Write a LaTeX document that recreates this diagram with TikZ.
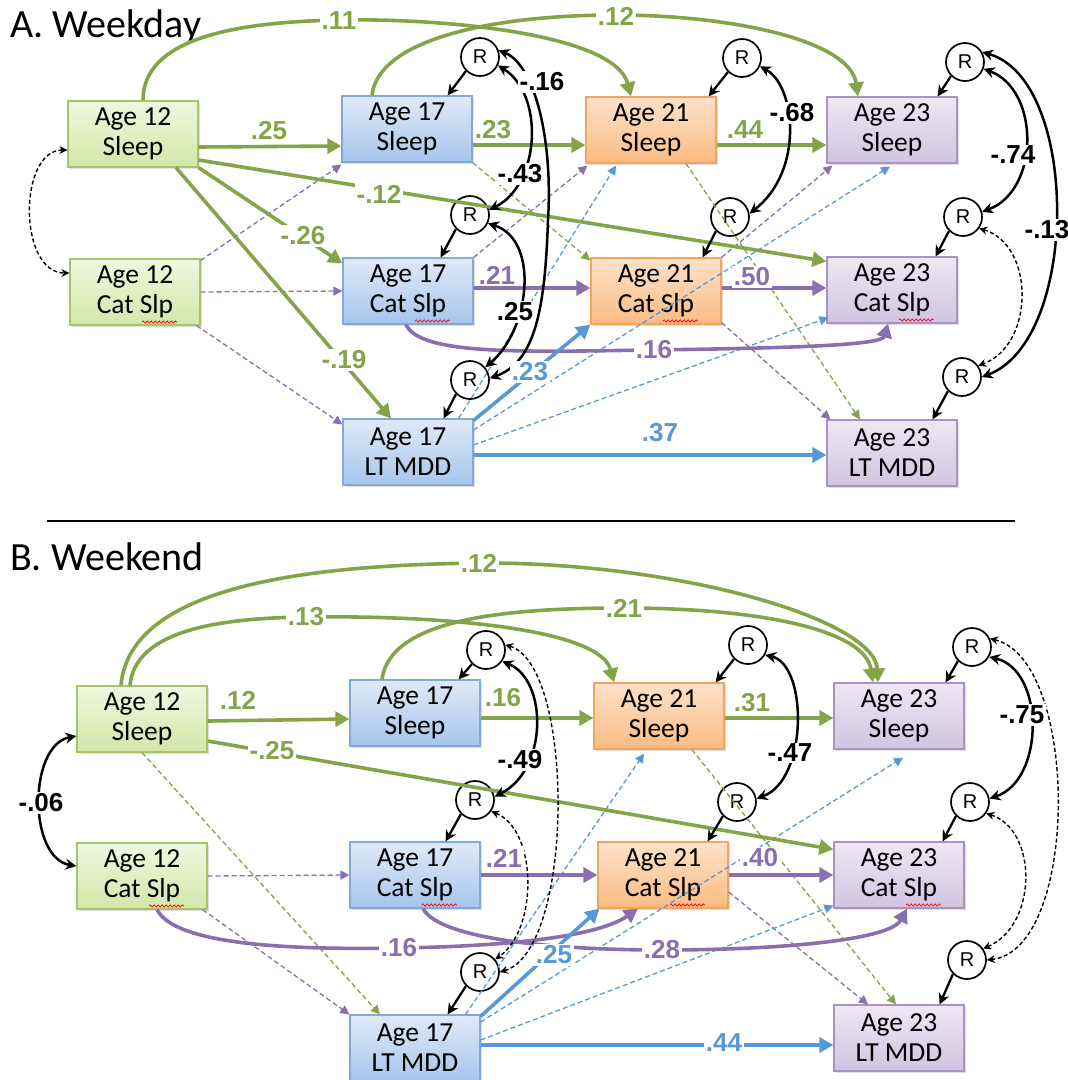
\documentclass[tikz,border=0pt]{standalone}
\usepackage{fontspec}
\setmainfont{Carlito}
\newfontfamily\labfont{Liberation Sans}
\usetikzlibrary{arrows.meta,calc,shadows,decorations.pathmorphing}

\definecolor{gline}{HTML}{85A449}
\definecolor{pline}{HTML}{8A6FAF}
\definecolor{bline}{HTML}{5898D7}
\definecolor{gtop}{HTML}{F0F7E0}
\definecolor{gbot}{HTML}{D2E7A8}
\definecolor{gbd}{HTML}{A6C56A}
\definecolor{btop}{HTML}{DFEAF8}
\definecolor{bbot}{HTML}{A6C5EB}
\definecolor{bbd}{HTML}{83A9DA}
\definecolor{otop}{HTML}{FDE2CA}
\definecolor{obot}{HTML}{FBBB82}
\definecolor{obd}{HTML}{F6A35C}
\definecolor{ptop}{HTML}{EEE8F4}
\definecolor{pbot}{HTML}{D0C4E1}
\definecolor{pbd}{HTML}{A793C5}

\begin{document}
\begin{tikzpicture}[x=1pt,y=-1pt,
  box/.style={draw, line width=1.2pt, minimum width=130pt, minimum height=66pt,
    align=center, inner sep=0pt, font=\fontsize{27.5}{30}\selectfont,
    drop shadow={shadow xshift=2pt, shadow yshift=-2pt, opacity=0.25}},
  gbox/.style={box, draw=gbd, top color=gtop, bottom color=gbot},
  bbox/.style={box, draw=bbd, top color=btop, bottom color=bbot},
  obox/.style={box, draw=obd, top color=otop, bottom color=obot},
  pbox/.style={box, draw=pbd, top color=ptop, bottom color=pbot},
  res/.style={circle, draw, line width=1.7pt, minimum size=38pt, inner sep=0pt,
    font=\labfont\fontsize{20}{20}\selectfont},
  gsolid/.style={draw=gline, line width=3.6pt, -{Triangle[length=14pt,width=15pt]}},
  psolid/.style={draw=pline, line width=3.6pt, -{Triangle[length=14pt,width=15pt]}},
  bsolid/.style={draw=bline, line width=3.6pt, -{Triangle[length=14pt,width=15pt]}},
  gdash/.style={draw=gline, line width=1.3pt, dash pattern=on 5pt off 3pt, -{Triangle[length=9pt,width=9pt]}},
  pdash/.style={draw=pline, line width=1.3pt, dash pattern=on 5pt off 3pt, -{Triangle[length=9pt,width=9pt]}},
  bdash/.style={draw=bline, line width=1.3pt, dash pattern=on 5pt off 3pt, -{Triangle[length=9pt,width=9pt]}},
  kres/.style={draw=black, line width=2.3pt, -{Stealth[length=11pt,width=11pt]}},
  kcorr/.style={draw=black, line width=2.5pt, {Stealth[length=11pt,width=11pt]}-{Stealth[length=11pt,width=11pt]}},
  kdcorr/.style={draw=black, line width=1.4pt, dash pattern=on 4pt off 2.5pt,
    {Stealth[length=8pt,width=8pt]}-{Stealth[length=8pt,width=8pt]}},
  lbl/.style={font=\labfont\bfseries\fontsize{26}{26}\selectfont, inner sep=1.5pt, fill=white},
  squig/.style={draw=red, line width=0.7pt, decorate, decoration={snake, amplitude=1.1pt, segment length=4pt}},
  ttl/.style={font=\fontsize{40}{40}\selectfont, anchor=base west, inner sep=0pt}
]
\useasboundingbox (0,0) rectangle (1068,1080);

% ---------------- titles and rule ----------------
\node[ttl] (tA) at (10,37) {A. Weekday};
\node[ttl] (tB) at (10,570) {B. Weekend};
\coordinate (ruleL) at (47,521);
\coordinate (ruleR) at (1015,521);
\draw[line width=2.5pt] (ruleL) -- (ruleR);

% ---------------- panel A boxes ----------------
\node[gbox] (A12S) at (133,134) {Age 12\\Sleep};
\node[gbox] (A12C) at (135,292) {Age 12\\Cat Slp};
\node[bbox] (A17S) at (407,129) {Age 17\\Sleep};
\node[bbox] (A17C) at (408,291) {Age 17\\Cat Slp};
\node[bbox] (A17M) at (408,452) {Age 17\\LT MDD};
\node[obox] (A21S) at (651,130) {Age 21\\Sleep};
\node[obox] (A21C) at (656,291) {Age 21\\Cat Slp};
\node[pbox] (A23S) at (892,130) {Age 23\\Sleep};
\node[pbox] (A23C) at (892,290) {Age 23\\Cat Slp};
\node[pbox] (A23M) at (892,453) {Age 23\\LT MDD};

\node[res] (rA17S) at (480,57) {R};
\node[res] (rA17C) at (470,215) {R};
\node[res] (rA17M) at (470,380) {R};
\node[res] (rA21S) at (742,58) {R};
\node[res] (rA21C) at (730,217) {R};
\node[res] (rA23S) at (965,62) {R};
\node[res] (rA23C) at (963,217) {R};
\node[res] (rA23M) at (962,377) {R};

% ---------------- panel B boxes ----------------
\node[gbox] (B12S) at (142,719) {Age 12\\Sleep};
\node[gbox] (B12C) at (142,876) {Age 12\\Cat Slp};
\node[bbox] (B17S) at (415,713) {Age 17\\Sleep};
\node[bbox] (B17C) at (415,875) {Age 17\\Cat Slp};
\node[bbox] (B17M) at (415,1048) {Age 17\\LT MDD};
\node[obox] (B21S) at (659,716) {Age 21\\Sleep};
\node[obox] (B21C) at (663,875) {Age 21\\Cat Slp};
\node[pbox] (B23S) at (899,716) {Age 23\\Sleep};
\node[pbox] (B23C) at (899,875) {Age 23\\Cat Slp};
\node[pbox] (B23M) at (899,1038) {Age 23\\LT MDD};

\node[res] (rB17S) at (486,650) {R};
\node[res] (rB17C) at (475,800) {R};
\node[res] (rB17M) at (480,972) {R};
\node[res] (rB21S) at (748,645) {R};
\node[res] (rB21C) at (737,802) {R};
\node[res] (rB23S) at (972,647) {R};
\node[res] (rB23C) at (970,802) {R};
\node[res] (rB23M) at (967,960) {R};

% spell-check squiggles under "Slp"
\foreach \b in {A12C,A17C,A21C,A23C,B12C,B17C,B21C,B23C}
  \draw[squig] ($(\b.center)+(7,30)$) -- ++(35,0);

% ================= panel A paths =================
% non-significant paths (thin dashed)
\draw[pdash] ($(A12C.north east)+(0,2)$) -- ($(A17S.south west)+(0,2)$);
\draw[pdash] (A12C.east) -- (A17C.west);
\draw[pdash] ($(A12C.south east)+(-4,0)$) -- ($(A17M.north west)+(0,6)$);
\draw[pdash] (A17C.north east) -- ($(A21S.south west)+(2,2)$);
\draw[pdash] (A21C.north east) -- ($(A23S.south west)+(6,2)$);
\draw[pdash] ($(A21C.south east)+(0,-2)$) -- ($(A23M.north west)+(4,0)$);
\draw[gdash] (A17S.south east) -- ($(A21C.north west)+(0,3)$);
\draw[gdash] ($(A21S.south)+(35,0)$) -- ($(A23M.north)+(-32,0)$);
\draw[bdash] ($(A17M.north east)+(-15,0)$) -- ($(A21S.south)+(-35,2)$);
\draw[bdash] ($(A17M.east)+(0,-22)$) -- ($(A23S.south)+(-2,3)$);
\draw[bdash] ($(A17M.east)+(0,-7)$) -- ($(A23C.south west)+(2,-6)$);

% sleep paths
\draw[gsolid] ($(A12S.east)+(0,13)$) -- ($(A17S.west)+(0,17)$);
\draw[gsolid] ($(A17S.east)+(0,16)$) -- ($(A21S.west)+(0,15)$);
\draw[gsolid] ($(A21S.east)+(0,15)$) -- ($(A23S.west)+(0,15)$);
\draw[gsolid] ($(A12S.north)+(10,0)$) .. controls (143,40) and (230,22) .. (339,20)
  .. controls (450,18) and (615,35) .. ($(A21S.north)+(-20,0)$);
\draw[gsolid] ($(A17S.north)+(-35,0)$) .. controls (378,40) and (490,15) .. (616,15)
  .. controls (730,15) and (850,40) .. ($(A23S.north)+(-34,0)$);
\draw[gsolid] (A12S.south east) -- ($(A17C.north west)+(0,6)$);
\draw[gsolid] ($(A12S.south)+(43,0)$) -- ($(A17M.north)+(-17,0)$);
\draw[gsolid] ($(A12S.east)+(0,26)$) -- ($(A23C.north west)+(0,5)$);

% categorical sleep paths
\draw[psolid] ($(A17C.east)+(0,-3)$) -- ($(A21C.west)+(0,-3)$);
\draw[psolid] ($(A21C.east)+(0,-3)$) -- ($(A23C.west)+(0,-2)$);
\draw[psolid] ($(A17C.south)+(-2,0)$) .. controls (420,355) and (520,352) .. (650,350)
  .. controls (800,348) and (882,345) .. ($(A23C.south)+(-4,0)$);

% depression paths
\draw[bsolid] ($(A17M.north east)+(0,2)$) -- (A21C.south west);
\draw[bsolid] ($(A17M.east)+(0,3)$) -- ($(A23M.west)+(0,2)$);

% residuals
\draw[kres] (rA17S.south west) -- ($(A17S.north east)+(-25,0)$);
\draw[kres] (rA17C.south west) -- ($(A17C.north east)+(-33,0)$);
\draw[kres] (rA17M.south west) -- ($(A17M.north east)+(-30,0)$);
\draw[kres] (rA21S.south west) -- ($(A21S.north east)+(-8,0)$);
\draw[kres] (rA21C.south west) -- ($(A21C.north east)+(-19,0)$);
\draw[kres] (rA23S.south west) -- ($(A23S.north east)+(-20,0)$);
\draw[kres] (rA23C.south west) -- ($(A23C.north east)+(-22,0)$);
\draw[kres] (rA23M.south west) -- ($(A23M.north east)+(-25,0)$);

% covariances
\draw[kdcorr] ($(A12S.west)+(0,16)$) .. controls (18,150) and (18,273) .. ($(A12C.west)+(0,-19)$);
\draw[kcorr] (rA17S.20) .. controls (535,65) and (553,140) .. (548,220)
  .. controls (545,310) and (535,362) .. (rA17M.5);
\draw[kcorr] (rA17S.-25) .. controls (545,95) and (540,185) .. (rA17C.15);
\draw[kcorr] (rA17C.-25) .. controls (540,240) and (530,330) .. (rA17M.40);
\draw[kcorr] (rA21S.-25) .. controls (795,85) and (805,170) .. (rA21C.10);
\draw[kcorr] (rA23S.-20) .. controls (1040,90) and (1040,190) .. (rA23C.15);
\draw[kcorr] (rA23S.30) .. controls (1080,80) and (1080,340) .. (rA23M.0);
\draw[kdcorr] (rA23C.-35) .. controls (1035,245) and (1035,345) .. (rA23M.35);

% coefficients
\node[lbl,text=gline] (cA1) at (269,131) {.25};
\node[lbl,text=gline] (cA2) at (493,130) {.23};
\node[lbl,text=gline] (cA3) at (745,130) {.44};
\node[lbl,text=gline] (cA4) at (339,21) {.11};
\node[lbl,text=gline] (cA5) at (616,16) {.12};
\node[lbl,text=gline] (cA6) at (379,194) {-.12};
\node[lbl,text=gline] (cA7) at (303,236) {-.26};
\node[lbl,text=gline] (cA8) at (344,360) {-.19};
\node[lbl,text=pline] (cA9) at (497,275) {.21};
\node[lbl,text=pline] (cA10) at (752,277) {.50};
\node[lbl,text=pline] (cA11) at (654,350) {.16};
\node[lbl,text=bline] (cA12) at (530,372) {.23};
\node[lbl,text=bline] (cA13) at (660,433) {.37};
\node[lbl] (cA14) at (542,82) {-.16};
\node[lbl] (cA15) at (520,174) {-.43};
\node[lbl] (cA16) at (515,312) {.25};
\node[lbl] (cA17) at (792,113) {-.68};
\node[lbl] (cA18) at (1013,155) {-.74};
\node[lbl] (cA19) at (1047,230) {-.13};

% ================= panel B paths =================
\draw[gdash] (B12S.south) -- ($(B17M.north)+(-35,0)$);
\draw[gdash] ($(B21S.south)+(33,0)$) -- ($(B23M.north)+(-3,0)$);
\draw[pdash] (B12C.east) -- (B17C.west);
\draw[pdash] ($(B12C.south east)+(-5,0)$) -- (B17M.north west);
\draw[pdash] ($(B21C.east)+(0,17)$) -- ($(B23M.north)+(-31,0)$);
\draw[bdash] ($(B17M.north east)+(-15,0)$) -- ($(B21S.south)+(-15,4)$);
\draw[bdash] ($(B17M.east)+(0,-26)$) -- ($(B23S.south)+(4,8)$);
\draw[bdash] ($(B17M.east)+(0,-8)$) -- ($(B23C.south west)+(0,-3)$);

\draw[gsolid] ($(B12S.east)+(0,2)$) -- ($(B17S.west)+(0,6)$);
\draw[gsolid] ($(B17S.east)+(0,5)$) -- ($(B21S.west)+(0,2)$);
\draw[gsolid] ($(B21S.east)+(0,2)$) -- ($(B23S.west)+(0,2)$);
\draw[gsolid] ($(B12S.north)+(-21,0)$) .. controls (130,580) and (330,565) .. (479,563)
  .. controls (680,562) and (875,620) .. ($(B23S.north)+(-21,0)$);
\draw[gsolid] ($(B12S.north)+(-12,0)$) .. controls (135,630) and (220,618) .. (306,617)
  .. controls (450,615) and (600,630) .. ($(B21S.north)+(-45,0)$);
\draw[gsolid] ($(B17S.north)+(-33,0)$) .. controls (390,620) and (500,608) .. (624,608)
  .. controls (760,608) and (865,630) .. ($(B23S.north)+(-26,0)$);
\draw[gsolid] ($(B12S.east)+(0,22)$) -- ($(B23C.north west)+(0,8)$);

\draw[psolid] (B17C.east) -- (B21C.west);
\draw[psolid] (B21C.east) -- (B23C.west);
\draw[psolid] ($(B12C.south)+(15,0)$) .. controls (175,945) and (290,950) .. (399,948)
  .. controls (520,946) and (600,935) .. ($(B21C.south)+(-25,0)$);
\draw[psolid] ($(B17C.south)+(8,0)$) .. controls (440,940) and (560,950) .. (662,950)
  .. controls (780,950) and (890,940) .. ($(B23C.south)+(8,0)$);

\draw[bsolid] ($(B17M.north east)+(0,2)$) -- ($(B21C.south west)+(2,0)$);
\draw[bsolid] ($(B17M.east)+(0,-3)$) -- ($(B23M.west)+(0,7)$);

\draw[kres] (rB17S.south west) -- ($(B17S.north east)+(-22,0)$);
\draw[kres] (rB17C.south west) -- ($(B17C.north east)+(-35,0)$);
\draw[kres] (rB17M.south west) -- ($(B17M.north east)+(-33,0)$);
\draw[kres] (rB21S.south west) -- ($(B21S.north east)+(-9,0)$);
\draw[kres] (rB21C.south west) -- ($(B21C.north east)+(-21,0)$);
\draw[kres] (rB23S.south west) -- ($(B23S.north east)+(-19,0)$);
\draw[kres] (rB23C.south west) -- ($(B23C.north east)+(-22,0)$);
\draw[kres] (rB23M.south west) -- ($(B23M.north east)+(-25,0)$);

\draw[kcorr] ($(B12S.west)+(0,17)$) .. controls (28,745) and (28,858) .. ($(B12C.west)+(0,-10)$);
\draw[kcorr] (rB17S.-35) .. controls (548,680) and (548,770) .. (rB17C.10);
\draw[kdcorr] (rB17S.15) .. controls (575,665) and (575,950) .. (rB17M.0);
\draw[kdcorr] (rB17C.-35) .. controls (538,830) and (538,930) .. (rB17M.40);
\draw[kcorr] (rB21S.-30) .. controls (808,665) and (808,780) .. (rB21C.10);
\draw[kcorr] (rB23S.-30) .. controls (1045,670) and (1045,780) .. (rB23C.10);
\draw[kdcorr] (rB23S.25) .. controls (1080,660) and (1080,950) .. (rB23M.0);
\draw[kdcorr] (rB23C.-35) .. controls (1038,830) and (1038,925) .. (rB23M.35);

\node[lbl,text=gline] (cB1) at (238,700) {.12};
\node[lbl,text=gline] (cB2) at (503,698) {.16};
\node[lbl,text=gline] (cB3) at (752,703) {.31};
\node[lbl,text=gline] (cB4) at (479,563) {.12};
\node[lbl,text=gline] (cB5) at (306,617) {.13};
\node[lbl,text=gline] (cB6) at (624,608) {.21};
\node[lbl,text=gline] (cB7) at (272,751) {-.25};
\node[lbl,text=pline] (cB8) at (504,858) {.21};
\node[lbl,text=pline] (cB9) at (760,858) {.40};
\node[lbl,text=pline] (cB10) at (399,948) {.16};
\node[lbl,text=pline] (cB11) at (662,950) {.28};
\node[lbl,text=bline] (cB12) at (554,955) {.25};
\node[lbl,text=bline] (cB13) at (724,1043) {.44};
\node[lbl] (cB14) at (41,803) {-.06};
\node[lbl] (cB15) at (520,760) {-.49};
\node[lbl] (cB16) at (790,753) {-.47};
\node[lbl] (cB17) at (1022,715) {-.75};
\end{tikzpicture}
\end{document}
